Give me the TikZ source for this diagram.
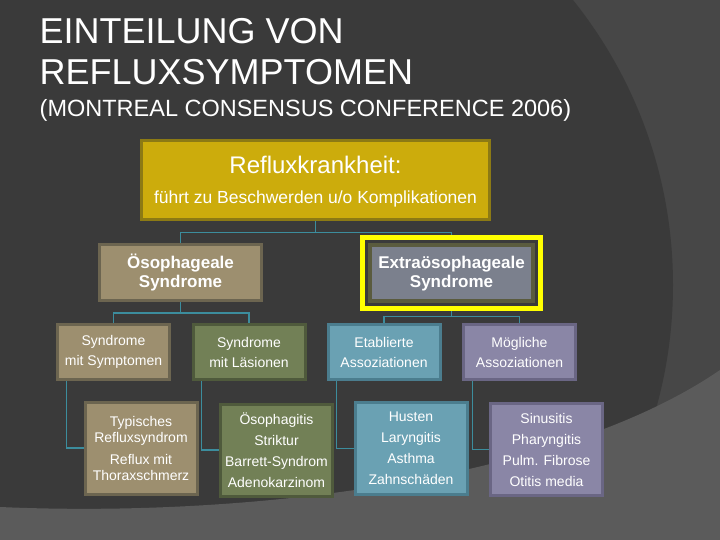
\documentclass[tikz,border=0pt]{standalone}
\usepackage{fontspec}
\setmainfont{Liberation Sans}
\usetikzlibrary{fit}
\definecolor{bgout}{HTML}{474747}
\definecolor{bgdark}{HTML}{3A3A3A}
\definecolor{bgbot}{HTML}{5B5B5B}
\definecolor{gold}{HTML}{CCAC0C}
\definecolor{goldb}{HTML}{8C7A14}
\definecolor{tan}{HTML}{9D8F6F}
\definecolor{tanb}{HTML}{6C6550}
\definecolor{grn}{HTML}{728056}
\definecolor{grnb}{HTML}{4F5A3C}
\definecolor{blu}{HTML}{6AA1B3}
\definecolor{blub}{HTML}{4B7D8E}
\definecolor{purp}{HTML}{8A86A6}
\definecolor{purpb}{HTML}{6A6684}
\definecolor{gry}{HTML}{7B808D}
\definecolor{olv}{HTML}{5A5B3E}
\definecolor{yel}{HTML}{FFFF00}
\definecolor{conn}{HTML}{3C8D9D}
\pgfdeclarelayer{bgl}
\pgfdeclarelayer{lines}
\pgfsetlayers{bgl,lines,main}
\tikzset{
  box/.style={draw, line width=3pt, inner sep=0pt, align=center, text=white},
  lvltwo/.style={box, minimum width=162pt, minimum height=56pt, font=\bfseries\fontsize{17}{19}\selectfont},
  lvlthree/.style={box, minimum width=112pt, minimum height=55pt, font=\fontsize{14}{20}\selectfont},
  lvlfour/.style={box, minimum width=112pt, minimum height=92pt, font=\fontsize{14}{21}\selectfont},
  connline/.style={draw=conn, line width=1.2pt},
  titletext/.style={anchor=base west, inner sep=0pt, text=white}
}
\begin{document}
\begin{tikzpicture}[x=1pt,y=-1pt]
\useasboundingbox (0,0) rectangle (720,540);
\begin{pgfonlayer}{bgl}
\begin{scope}
\clip (0,0) rectangle (720,540);
\fill[bgout] (0,0) rectangle (720,540);
\fill[bgdark] (217,285) circle[radius=456];
\fill[bgbot] (0,507) .. controls (250,518) and (560,480) .. (720,370) -- (720,540) -- (0,540) -- cycle;
\end{scope}
\end{pgfonlayer}

\node[titletext, font=\fontsize{36}{40}\selectfont] (ti1) at (39.5,43.5) {EINTEILUNG VON};
\node[titletext, font=\fontsize{36}{40}\selectfont] (ti2) at (39.5,85) {REFLUXSYMPTOMEN};
\node[titletext, font=\fontsize{23.5}{26}\selectfont] (ti3) at (39.5,116.5) {(MONTREAL CONSENSUS CONFERENCE 2006)};

\node[box, fill=gold, draw=goldb, minimum width=348pt, minimum height=79pt] (top) at (315.5,180.5) {};
\node[anchor=base, inner sep=0pt, text=white, font=\fontsize{24}{26}\selectfont] (tt1) at (315.5,174) {Refluxkrankheit:};
\node[anchor=base, inner sep=0pt, text=white, font=\fontsize{17.5}{20}\selectfont] (tt2) at (315.5,204) {führt zu Beschwerden u/o Komplikationen};

\node[lvltwo, fill=tan, draw=tanb] (oes) at (180.5,272.5) {Ösophageale\\Syndrome};
\node[lvltwo, fill=gry, draw=olv, line width=4pt, minimum width=163pt, minimum height=56pt] (ext) at (451.5,272.5) {\vphantom{Ö}Extraösophageale\\Syndrome};
\node[draw=yel, line width=5pt, inner sep=5.5pt, fit=(ext)] (extfr) {};

\node[lvlthree, fill=tan, draw=tanb] (sa) at (113.5,352) {Syndrome\\mit Symptomen};
\node[lvlthree, fill=grn, draw=grnb] (sb) at (249,352) {Syndrome\\mit Läsionen};
\node[lvlthree, fill=blu, draw=blub] (sc) at (384,352) {Etablierte\\Assoziationen};
\node[lvlthree, fill=purp, draw=purpb] (sd) at (519.5,352) {Mögliche\\Assoziationen};

\node[lvlfour, fill=tan, draw=tanb] (fa) at (141,448) {Typisches\\[-5pt]Refluxsyndrom\\[1pt]Reflux mit\\[-5pt]Thoraxschmerz};
\node[lvlfour, fill=grn, draw=grnb] (fb) at (276.5,450) {Ösophagitis\\Striktur\\Barrett-Syndrom\\Adenokarzinom};
\node[lvlfour, fill=blu, draw=blub] (fc) at (411,448.5) {Husten\\Laryngitis\\Asthma\\Zahnschäden};
\node[lvlfour, fill=purp, draw=purpb] (fd) at (546.5,449.5) {Sinusitis\\Pharyngitis\\Pulm. Fibrose\\Otitis media};

\begin{pgfonlayer}{lines}
\draw[connline] (top.south) -- ++(0,11) -| (oes.north);
\draw[connline] (top.south) -- ++(0,11) -| (extfr.north);
\draw[connline] (oes.south) -- ++(0,11) -| (sa.north);
\draw[connline] (oes.south) -- ++(0,11) -| (sb.north);
\draw[connline] (extfr.south) -- ++(0,6) -| (sc.north);
\draw[connline] (extfr.south) -- ++(0,6) -| (sd.north);
\draw[connline] ([xshift=10.5pt]sa.south west) |- (fa.west);
\draw[connline] ([xshift=10pt]sb.south west) |- (fb.west);
\draw[connline] ([xshift=10pt]sc.south west) |- (fc.west);
\draw[connline] ([xshift=10.5pt]sd.south west) |- (fd.west);
\end{pgfonlayer}
\end{tikzpicture}
\end{document}
